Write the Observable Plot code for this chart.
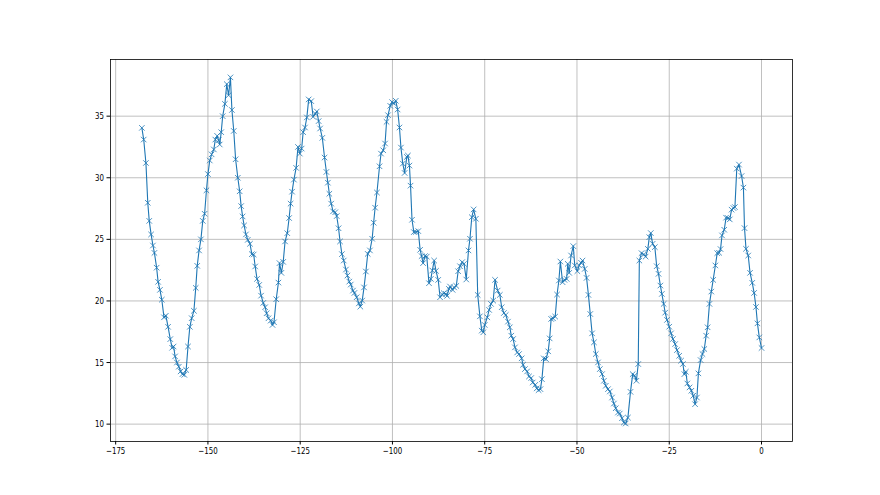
<!DOCTYPE html>
<html>
<head>
<meta charset="utf-8">
<script src="https://cdn.jsdelivr.net/npm/d3@7"></script>
<script src="https://cdn.jsdelivr.net/npm/@observablehq/plot@0.6"></script>
<style>
  html, body { margin: 0; padding: 0; background: #fff; }
  #chart svg { display: block; }
</style>
</head>
<body>
<div id="chart"></div>
<script>
const hours = [
  -167.9,-167.4,-166.8,-166.3,-165.9,-165.4,-164.9,-164.5,-163.9,-163.5,-163.0,-162.5,-161.9,-161.4,-160.8,-160.2,-159.7,-159.3,-158.9,-158.4,
  -157.9,-157.4,-156.9,-156.4,-155.9,-155.4,-154.9,-154.4,-153.8,-153.3,-152.9,-152.4,-151.9,-151.4,-150.9,-150.4,-150.0,-149.5,-149.0,-148.4,
  -148.0,-147.5,-147.1,-146.8,-146.4,-146.0,-145.4,-144.9,-144.4,-143.9,-143.5,-143.0,-142.5,-141.9,-141.4,
  -141.0,-140.6,-140.2,-139.7,-139.2,-138.6,-138.1,-137.6,-137.2,-136.7,-136.1,-135.6,-135.0,-134.5,-134.1,-133.6,-133.0,-132.5,-132.1,-131.5,
  -130.9,-130.6,-130.1,-129.6,-129.1,-128.5,-128.0,-127.6,-127.2,-126.7,-126.1,-125.6,-125.1,-124.6,-124.2,-123.7,-123.2,-122.7,-122.0,-121.5,
  -120.9,-120.5,-120.0,-119.6,-119.0,-118.4,-117.9,-117.5,-117.1,-116.6,-116.1,-115.5,-115.1,-114.6,-114.2,-113.7,-113.2,-112.6,-112.2,-111.7,
  -111.3,-110.7,-110.3,
  -109.7,-109.1,-108.7,-108.2,-107.7,-107.2,-106.7,-106.1,-105.5,-105.1,-104.7,-104.2,-103.5,-103.1,-102.5,-102.0,-101.6,-101.2,-100.6,-100.1,
  -99.6,-99.1,-98.6,-98.1,-97.7,-97.2,-96.7,-96.1,-95.8,-95.4,-95.1,-94.7,-94.2,-93.7,-93.0,-92.5,-92.1,-91.7,-91.2,-90.7,
  -90.1,-89.6,-89.2,-88.7,-88.2,-87.6,-87.1,-86.5,-86.1,-85.5,-85.2,-84.7,-84.4,-83.7,-83.3,-82.7,-82.2,-81.7,-81.1,-80.6,
  -80.0,-79.4,-79.0,-78.5,-78.0,-77.4,-76.9,-76.3,-75.8,-75.4,-75.0,-74.3,-73.8,-73.3,-72.7,-72.2,-71.5,-70.9,-70.4,-69.8,
  -69.3,-68.7,-68.2,-67.8,-67.3,-66.8,-66.2,-65.7,-65.0,-64.6,-64.1,-63.5,-63.0,-62.4,-62.0,-61.3,-60.9,-60.4,-59.9,-59.5,
  -59.0,-58.4,-57.8,-57.4,-57.0,-56.5,-55.9,-55.4,-54.9,-54.5,-53.9,-53.4,-52.8,-52.5,-52.1,-51.6,-51.0,-50.6,
  -49.9,-49.4,-48.9,-48.5,-47.9,-47.4,-46.9,-46.4,-45.9,-45.4,-44.9,-44.3,-43.8,-43.2,-42.7,-42.2,-41.6,-41.1,-40.5,-40.0,
  -39.5,-38.9,-38.4,-37.8,-37.3,-36.8,-36.2,-35.5,-34.9,-34.4,-33.9,-33.4,-33.1,-32.5,-31.9,-31.4,-30.8,-30.4,-30.0,-29.5,
  -28.9,-28.4,-27.9,-27.4,-27.0,-26.5,-26.1,-25.6,-25.0,-24.5,-24.0,-23.4,-22.9,-22.3,-21.8,-21.3,-20.9,
  -20.5,-20.1,-19.5,-19.0,-18.5,-18.0,-17.5,-17.1,-16.5,-16.0,-15.5,-15.0,-14.6,-14.1,-13.6,-13.1,-12.5,-12.0,-11.5,-11.1,
  -10.7,-10.1,-9.6,-9.1,-8.6,-8.1,-7.6,-7.2,-6.7,-6.1,-5.4,-4.9,-4.6,-4.2,-3.6,-3.1,-2.5,-2.0,-1.5,-1.1,
  -0.6,0.0
];
const temps = [
  34.05,33.1,31.2,27.97,26.5,25.4,24.5,23.9,22.7,21.55,20.9,20.1,18.67,18.8,17.9,16.9,16.2,16.3,15.5,15.0,
  14.66,14.28,14.06,14.0,14.4,16.3,17.9,18.6,19.2,21.06,22.85,24.1,25.0,26.5,27.08,28.98,30.3,31.4,31.9,32.3,
  33.1,33.4,33.05,32.7,33.7,35.0,36.0,37.6,36.7,38.15,35.5,33.8,31.5,30.0,28.9,
  27.7,26.86,26.13,25.4,24.96,24.64,23.8,23.77,22.8,21.79,21.3,20.43,19.84,19.49,19.0,18.59,18.4,18.05,18.27,20.14,
  21.49,23.07,22.28,23.17,24.83,25.5,26.73,27.9,28.87,29.85,30.8,32.5,31.96,32.37,33.7,34.08,34.9,36.36,36.22,34.95,
  35.2,35.38,34.6,34.0,33.24,31.64,30.47,29.6,28.7,27.9,27.27,27.2,26.89,25.9,24.83,23.8,23.28,22.55,22.06,21.57,
  21.33,20.84,20.65,
  20.3,19.8,19.54,20.03,21.1,22.39,23.82,24.1,25.05,26.35,27.57,28.8,30.93,31.96,32.23,32.78,34.54,35.08,35.84,36.14,
  36.03,36.25,35.54,34.08,32.45,31.15,30.39,31.69,31.8,30.99,29.36,26.59,25.59,25.6,25.67,24.15,23.64,23.07,23.64,23.6,
  21.44,21.79,22.47,23.28,22.44,21.71,20.3,20.52,20.63,20.57,20.41,20.98,21.17,20.9,21.1,21.22,22.41,22.82,23.15,23.01,
  21.74,24.1,25.05,26.8,27.43,26.67,20.49,18.75,17.59,17.45,18.05,18.67,19.27,19.76,20.03,21.71,20.84,20.49,19.49,19.02,
  18.86,18.32,17.86,17.18,16.91,16.23,15.82,15.69,15.34,14.82,14.47,14.28,13.87,13.74,13.38,13.19,12.9,12.76,12.84,13.65,
  15.34,15.28,15.91,16.96,18.54,18.59,18.73,20.52,21.66,23.2,21.52,21.71,21.79,23.01,22.28,23.69,24.45,22.88,
  22.42,22.88,23.1,23.28,22.6,21.87,20.49,18.94,17.37,16.64,15.69,15.01,14.47,14.06,13.52,13.11,12.84,12.65,12.16,11.67,
  11.29,10.94,10.86,10.48,10.13,10.05,10.53,12.62,14.06,13.93,13.52,14.88,23.28,23.88,23.77,23.6,24.23,25.18,25.51,24.64,
  24.37,22.82,22.2,21.25,20.57,19.76,19.05,18.46,17.91,17.37,16.91,16.5,16.01,15.55,15.15,14.88,14.06,
  14.25,13.3,12.98,12.71,12.3,11.62,12.16,14.12,15.2,15.69,16.1,17.18,17.86,19.76,20.76,21.71,22.88,23.88,23.91,24.21,
  25.32,25.78,26.76,26.73,26.62,27.41,27.54,27.62,30.74,31.07,30.14,29.2,25.91,24.23,23.69,22.28,21.47,20.65,19.51,18.18,
  17.04,16.18
];
const xTicks = [-175, -150, -125, -100, -75, -50, -25, 0];
const yTicks = [10, 15, 20, 25, 30, 35];

const data = hours.map((h, i) => ({h, t: temps[i]}));
const blue = "#1f77b4";
const grid = "#b0b0b0";

const chart = Plot.plot({
  width: 880,
  height: 495,
  marginLeft: 110,
  marginRight: 88,
  marginTop: 59,
  marginBottom: 54,
  style: {fontFamily: "DejaVu Sans, sans-serif", fontSize: "9.3px", color: "#000", background: "#fff"},
  x: {domain: [-176.4, 8.4]},
  y: {domain: [8.59, 39.6]},
  marks: [
    Plot.ruleX(xTicks, {stroke: grid, strokeWidth: 0.8}),
    Plot.ruleY(yTicks, {stroke: grid, strokeWidth: 0.8}),
    Plot.line(data, {x: "h", y: "t", stroke: blue, strokeWidth: 1.1}),
    Plot.dot(data, {x: "h", y: "t", symbol: "times", r: 2.6, stroke: blue, strokeWidth: 0.8}),
    Plot.frame({stroke: "#000", strokeWidth: 0.8}),
    Plot.axisX({ticks: xTicks, tickSize: 3.5, tickPadding: 2.5, label: null, stroke: "#000"}),
    Plot.axisY({ticks: yTicks, tickSize: 3.5, tickPadding: 3, label: null, stroke: "#000"})
  ]
});

chart.querySelectorAll('g[aria-label$="tick label"] text').forEach(t => {
  const tr = t.getAttribute("transform");
  if (tr) {
    t.setAttribute("transform", tr + " scale(0.76,1)");
  } else {
    const x = +(t.getAttribute("x") || 0), y = +(t.getAttribute("y") || 0);
    t.removeAttribute("x"); t.removeAttribute("y");
    t.setAttribute("transform", `translate(${x},${y}) scale(0.76,1)`);
  }
});

document.getElementById("chart").append(chart);
</script>
</body>
</html>
